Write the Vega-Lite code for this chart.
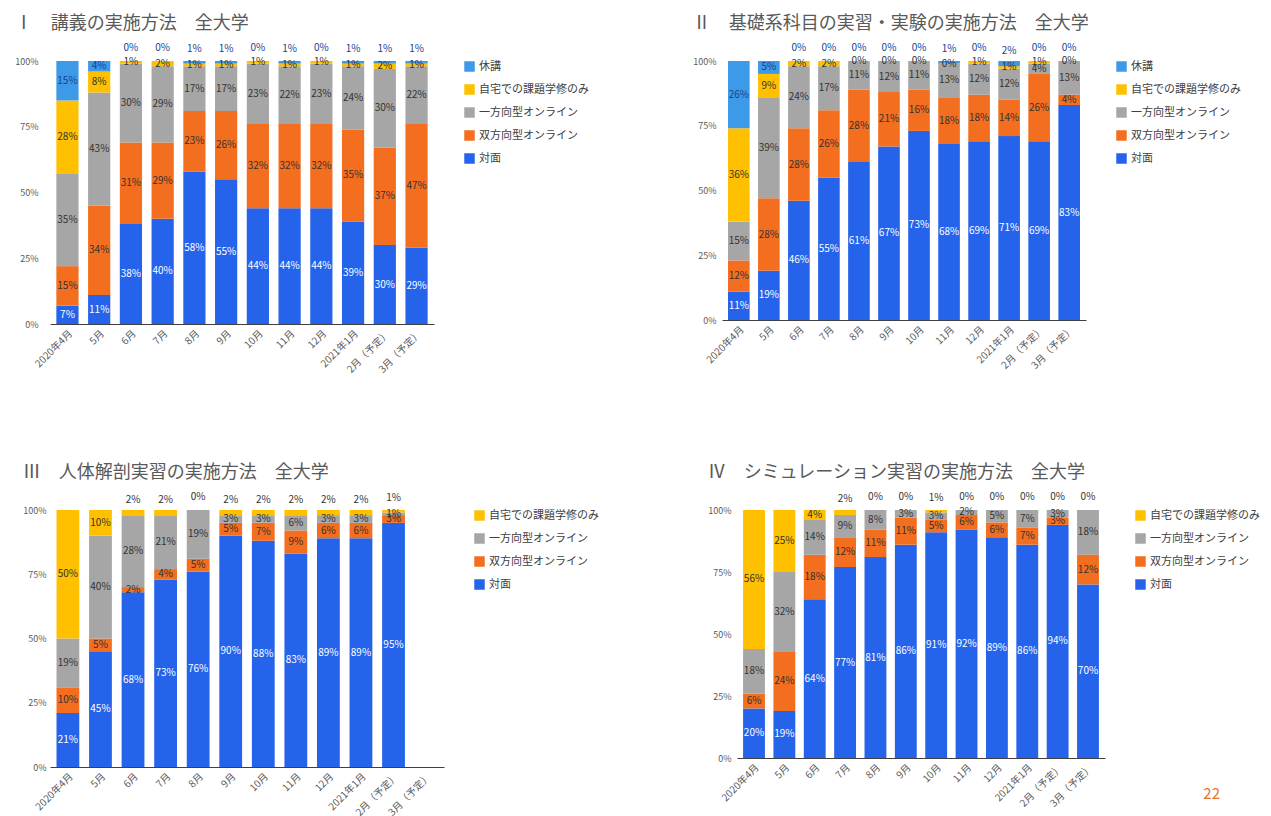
{
  "$schema": "https://vega.github.io/schema/vega-lite/v6.json",
  "background": "white",
  "padding": {"left": 14, "top": 15, "right": 5, "bottom": 5},
  "title": {"text": "22", "orient": "bottom", "anchor": "end", "color": "#E8742F", "fontSize": 15, "offset": -30, "dx": -40},
  "config": {
    "font": "Noto Sans CJK JP",
    "view": {"stroke": null},
    "title": {"fontSize": 18, "fontWeight": "normal", "color": "#595959", "anchor": "start", "frame": "bounds", "offset": 10},
    "axisX": {"labelAngle": -45, "labelFontSize": 10, "labelColor": "#595959", "ticks": false, "domainColor": "#404040", "labelPadding": 4},
    "axisY": {"labelFontSize": 9, "labelColor": "#595959", "ticks": false, "domain": false, "grid": false},
    "legend": {"symbolType": "square", "symbolSize": 110, "symbolStrokeWidth": 0, "labelFontSize": 11, "labelColor": "#404040", "rowPadding": 11, "offset": 30, "orient": "right"},
    "text": {"fontSize": 10}
  },
  "datasets": {
    "stackOrder": [
      {"s": "対面", "k": 0}, {"s": "双方向型オンライン", "k": 1}, {"s": "一方向型オンライン", "k": 2}, {"s": "自宅での課題学修のみ", "k": 3}, {"s": "休講", "k": 4}
    ],
    "lecture": [
      {"m": "2020年4月", "s": "対面", "v": 0.07}, {"m": "2020年4月", "s": "双方向型オンライン", "v": 0.15}, {"m": "2020年4月", "s": "一方向型オンライン", "v": 0.35}, {"m": "2020年4月", "s": "自宅での課題学修のみ", "v": 0.28}, {"m": "2020年4月", "s": "休講", "v": 0.15},
      {"m": "5月", "s": "対面", "v": 0.11}, {"m": "5月", "s": "双方向型オンライン", "v": 0.34}, {"m": "5月", "s": "一方向型オンライン", "v": 0.43}, {"m": "5月", "s": "自宅での課題学修のみ", "v": 0.08}, {"m": "5月", "s": "休講", "v": 0.04},
      {"m": "6月", "s": "対面", "v": 0.38}, {"m": "6月", "s": "双方向型オンライン", "v": 0.31}, {"m": "6月", "s": "一方向型オンライン", "v": 0.30}, {"m": "6月", "s": "自宅での課題学修のみ", "v": 0.01}, {"m": "6月", "s": "休講", "v": 0.0},
      {"m": "7月", "s": "対面", "v": 0.40}, {"m": "7月", "s": "双方向型オンライン", "v": 0.29}, {"m": "7月", "s": "一方向型オンライン", "v": 0.29}, {"m": "7月", "s": "自宅での課題学修のみ", "v": 0.02}, {"m": "7月", "s": "休講", "v": 0.0},
      {"m": "8月", "s": "対面", "v": 0.58}, {"m": "8月", "s": "双方向型オンライン", "v": 0.23}, {"m": "8月", "s": "一方向型オンライン", "v": 0.17}, {"m": "8月", "s": "自宅での課題学修のみ", "v": 0.01}, {"m": "8月", "s": "休講", "v": 0.01},
      {"m": "9月", "s": "対面", "v": 0.55}, {"m": "9月", "s": "双方向型オンライン", "v": 0.26}, {"m": "9月", "s": "一方向型オンライン", "v": 0.17}, {"m": "9月", "s": "自宅での課題学修のみ", "v": 0.01}, {"m": "9月", "s": "休講", "v": 0.01},
      {"m": "10月", "s": "対面", "v": 0.44}, {"m": "10月", "s": "双方向型オンライン", "v": 0.32}, {"m": "10月", "s": "一方向型オンライン", "v": 0.23}, {"m": "10月", "s": "自宅での課題学修のみ", "v": 0.01}, {"m": "10月", "s": "休講", "v": 0.0},
      {"m": "11月", "s": "対面", "v": 0.44}, {"m": "11月", "s": "双方向型オンライン", "v": 0.32}, {"m": "11月", "s": "一方向型オンライン", "v": 0.22}, {"m": "11月", "s": "自宅での課題学修のみ", "v": 0.01}, {"m": "11月", "s": "休講", "v": 0.01},
      {"m": "12月", "s": "対面", "v": 0.44}, {"m": "12月", "s": "双方向型オンライン", "v": 0.32}, {"m": "12月", "s": "一方向型オンライン", "v": 0.23}, {"m": "12月", "s": "自宅での課題学修のみ", "v": 0.01}, {"m": "12月", "s": "休講", "v": 0.0},
      {"m": "2021年1月", "s": "対面", "v": 0.39}, {"m": "2021年1月", "s": "双方向型オンライン", "v": 0.35}, {"m": "2021年1月", "s": "一方向型オンライン", "v": 0.24}, {"m": "2021年1月", "s": "自宅での課題学修のみ", "v": 0.01}, {"m": "2021年1月", "s": "休講", "v": 0.01},
      {"m": "2月（予定）", "s": "対面", "v": 0.30}, {"m": "2月（予定）", "s": "双方向型オンライン", "v": 0.37}, {"m": "2月（予定）", "s": "一方向型オンライン", "v": 0.30}, {"m": "2月（予定）", "s": "自宅での課題学修のみ", "v": 0.02}, {"m": "2月（予定）", "s": "休講", "v": 0.01},
      {"m": "3月（予定）", "s": "対面", "v": 0.29}, {"m": "3月（予定）", "s": "双方向型オンライン", "v": 0.47}, {"m": "3月（予定）", "s": "一方向型オンライン", "v": 0.22}, {"m": "3月（予定）", "s": "自宅での課題学修のみ", "v": 0.01}, {"m": "3月（予定）", "s": "休講", "v": 0.01}
    ],
    "basic": [
      {"m": "2020年4月", "s": "対面", "v": 0.11}, {"m": "2020年4月", "s": "双方向型オンライン", "v": 0.12}, {"m": "2020年4月", "s": "一方向型オンライン", "v": 0.15}, {"m": "2020年4月", "s": "自宅での課題学修のみ", "v": 0.36}, {"m": "2020年4月", "s": "休講", "v": 0.26},
      {"m": "5月", "s": "対面", "v": 0.19}, {"m": "5月", "s": "双方向型オンライン", "v": 0.28}, {"m": "5月", "s": "一方向型オンライン", "v": 0.39}, {"m": "5月", "s": "自宅での課題学修のみ", "v": 0.09}, {"m": "5月", "s": "休講", "v": 0.05},
      {"m": "6月", "s": "対面", "v": 0.46}, {"m": "6月", "s": "双方向型オンライン", "v": 0.28}, {"m": "6月", "s": "一方向型オンライン", "v": 0.24}, {"m": "6月", "s": "自宅での課題学修のみ", "v": 0.02}, {"m": "6月", "s": "休講", "v": 0.0},
      {"m": "7月", "s": "対面", "v": 0.55}, {"m": "7月", "s": "双方向型オンライン", "v": 0.26}, {"m": "7月", "s": "一方向型オンライン", "v": 0.17}, {"m": "7月", "s": "自宅での課題学修のみ", "v": 0.02}, {"m": "7月", "s": "休講", "v": 0.0},
      {"m": "8月", "s": "対面", "v": 0.61}, {"m": "8月", "s": "双方向型オンライン", "v": 0.28}, {"m": "8月", "s": "一方向型オンライン", "v": 0.11}, {"m": "8月", "s": "自宅での課題学修のみ", "v": 0.0}, {"m": "8月", "s": "休講", "v": 0.0},
      {"m": "9月", "s": "対面", "v": 0.67}, {"m": "9月", "s": "双方向型オンライン", "v": 0.21}, {"m": "9月", "s": "一方向型オンライン", "v": 0.12}, {"m": "9月", "s": "自宅での課題学修のみ", "v": 0.0}, {"m": "9月", "s": "休講", "v": 0.0},
      {"m": "10月", "s": "対面", "v": 0.73}, {"m": "10月", "s": "双方向型オンライン", "v": 0.16}, {"m": "10月", "s": "一方向型オンライン", "v": 0.11}, {"m": "10月", "s": "自宅での課題学修のみ", "v": 0.0}, {"m": "10月", "s": "休講", "v": 0.0},
      {"m": "11月", "s": "対面", "v": 0.68}, {"m": "11月", "s": "双方向型オンライン", "v": 0.18}, {"m": "11月", "s": "一方向型オンライン", "v": 0.13}, {"m": "11月", "s": "自宅での課題学修のみ", "v": 0.0}, {"m": "11月", "s": "休講", "v": 0.01},
      {"m": "12月", "s": "対面", "v": 0.69}, {"m": "12月", "s": "双方向型オンライン", "v": 0.18}, {"m": "12月", "s": "一方向型オンライン", "v": 0.12}, {"m": "12月", "s": "自宅での課題学修のみ", "v": 0.01}, {"m": "12月", "s": "休講", "v": 0.0},
      {"m": "2021年1月", "s": "対面", "v": 0.71}, {"m": "2021年1月", "s": "双方向型オンライン", "v": 0.14}, {"m": "2021年1月", "s": "一方向型オンライン", "v": 0.12}, {"m": "2021年1月", "s": "自宅での課題学修のみ", "v": 0.01}, {"m": "2021年1月", "s": "休講", "v": 0.02},
      {"m": "2月（予定）", "s": "対面", "v": 0.69}, {"m": "2月（予定）", "s": "双方向型オンライン", "v": 0.26}, {"m": "2月（予定）", "s": "一方向型オンライン", "v": 0.04}, {"m": "2月（予定）", "s": "自宅での課題学修のみ", "v": 0.01}, {"m": "2月（予定）", "s": "休講", "v": 0.0},
      {"m": "3月（予定）", "s": "対面", "v": 0.83}, {"m": "3月（予定）", "s": "双方向型オンライン", "v": 0.04}, {"m": "3月（予定）", "s": "一方向型オンライン", "v": 0.13}, {"m": "3月（予定）", "s": "自宅での課題学修のみ", "v": 0.0}, {"m": "3月（予定）", "s": "休講", "v": 0.0}
    ],
    "anatomy": [
      {"m": "2020年4月", "s": "対面", "v": 0.21}, {"m": "2020年4月", "s": "双方向型オンライン", "v": 0.10}, {"m": "2020年4月", "s": "一方向型オンライン", "v": 0.19}, {"m": "2020年4月", "s": "自宅での課題学修のみ", "v": 0.50},
      {"m": "5月", "s": "対面", "v": 0.45}, {"m": "5月", "s": "双方向型オンライン", "v": 0.05}, {"m": "5月", "s": "一方向型オンライン", "v": 0.40}, {"m": "5月", "s": "自宅での課題学修のみ", "v": 0.10},
      {"m": "6月", "s": "対面", "v": 0.68}, {"m": "6月", "s": "双方向型オンライン", "v": 0.02}, {"m": "6月", "s": "一方向型オンライン", "v": 0.28}, {"m": "6月", "s": "自宅での課題学修のみ", "v": 0.02},
      {"m": "7月", "s": "対面", "v": 0.73}, {"m": "7月", "s": "双方向型オンライン", "v": 0.04}, {"m": "7月", "s": "一方向型オンライン", "v": 0.21}, {"m": "7月", "s": "自宅での課題学修のみ", "v": 0.02},
      {"m": "8月", "s": "対面", "v": 0.76}, {"m": "8月", "s": "双方向型オンライン", "v": 0.05}, {"m": "8月", "s": "一方向型オンライン", "v": 0.19}, {"m": "8月", "s": "自宅での課題学修のみ", "v": 0.0},
      {"m": "9月", "s": "対面", "v": 0.90}, {"m": "9月", "s": "双方向型オンライン", "v": 0.05}, {"m": "9月", "s": "一方向型オンライン", "v": 0.03}, {"m": "9月", "s": "自宅での課題学修のみ", "v": 0.02},
      {"m": "10月", "s": "対面", "v": 0.88}, {"m": "10月", "s": "双方向型オンライン", "v": 0.07}, {"m": "10月", "s": "一方向型オンライン", "v": 0.03}, {"m": "10月", "s": "自宅での課題学修のみ", "v": 0.02},
      {"m": "11月", "s": "対面", "v": 0.83}, {"m": "11月", "s": "双方向型オンライン", "v": 0.09}, {"m": "11月", "s": "一方向型オンライン", "v": 0.06}, {"m": "11月", "s": "自宅での課題学修のみ", "v": 0.02},
      {"m": "12月", "s": "対面", "v": 0.89}, {"m": "12月", "s": "双方向型オンライン", "v": 0.06}, {"m": "12月", "s": "一方向型オンライン", "v": 0.03}, {"m": "12月", "s": "自宅での課題学修のみ", "v": 0.02},
      {"m": "2021年1月", "s": "対面", "v": 0.89}, {"m": "2021年1月", "s": "双方向型オンライン", "v": 0.06}, {"m": "2021年1月", "s": "一方向型オンライン", "v": 0.03}, {"m": "2021年1月", "s": "自宅での課題学修のみ", "v": 0.02},
      {"m": "2月（予定）", "s": "対面", "v": 0.95}, {"m": "2月（予定）", "s": "双方向型オンライン", "v": 0.03}, {"m": "2月（予定）", "s": "一方向型オンライン", "v": 0.01}, {"m": "2月（予定）", "s": "自宅での課題学修のみ", "v": 0.01}
    ],
    "simulation": [
      {"m": "2020年4月", "s": "対面", "v": 0.20}, {"m": "2020年4月", "s": "双方向型オンライン", "v": 0.06}, {"m": "2020年4月", "s": "一方向型オンライン", "v": 0.18}, {"m": "2020年4月", "s": "自宅での課題学修のみ", "v": 0.56},
      {"m": "5月", "s": "対面", "v": 0.19}, {"m": "5月", "s": "双方向型オンライン", "v": 0.24}, {"m": "5月", "s": "一方向型オンライン", "v": 0.32}, {"m": "5月", "s": "自宅での課題学修のみ", "v": 0.25},
      {"m": "6月", "s": "対面", "v": 0.64}, {"m": "6月", "s": "双方向型オンライン", "v": 0.18}, {"m": "6月", "s": "一方向型オンライン", "v": 0.14}, {"m": "6月", "s": "自宅での課題学修のみ", "v": 0.04},
      {"m": "7月", "s": "対面", "v": 0.77}, {"m": "7月", "s": "双方向型オンライン", "v": 0.12}, {"m": "7月", "s": "一方向型オンライン", "v": 0.09}, {"m": "7月", "s": "自宅での課題学修のみ", "v": 0.02},
      {"m": "8月", "s": "対面", "v": 0.81}, {"m": "8月", "s": "双方向型オンライン", "v": 0.11}, {"m": "8月", "s": "一方向型オンライン", "v": 0.08}, {"m": "8月", "s": "自宅での課題学修のみ", "v": 0.0},
      {"m": "9月", "s": "対面", "v": 0.86}, {"m": "9月", "s": "双方向型オンライン", "v": 0.11}, {"m": "9月", "s": "一方向型オンライン", "v": 0.03}, {"m": "9月", "s": "自宅での課題学修のみ", "v": 0.0},
      {"m": "10月", "s": "対面", "v": 0.91}, {"m": "10月", "s": "双方向型オンライン", "v": 0.05}, {"m": "10月", "s": "一方向型オンライン", "v": 0.03}, {"m": "10月", "s": "自宅での課題学修のみ", "v": 0.01},
      {"m": "11月", "s": "対面", "v": 0.92}, {"m": "11月", "s": "双方向型オンライン", "v": 0.06}, {"m": "11月", "s": "一方向型オンライン", "v": 0.02}, {"m": "11月", "s": "自宅での課題学修のみ", "v": 0.0},
      {"m": "12月", "s": "対面", "v": 0.89}, {"m": "12月", "s": "双方向型オンライン", "v": 0.06}, {"m": "12月", "s": "一方向型オンライン", "v": 0.05}, {"m": "12月", "s": "自宅での課題学修のみ", "v": 0.0},
      {"m": "2021年1月", "s": "対面", "v": 0.86}, {"m": "2021年1月", "s": "双方向型オンライン", "v": 0.07}, {"m": "2021年1月", "s": "一方向型オンライン", "v": 0.07}, {"m": "2021年1月", "s": "自宅での課題学修のみ", "v": 0.0},
      {"m": "2月（予定）", "s": "対面", "v": 0.94}, {"m": "2月（予定）", "s": "双方向型オンライン", "v": 0.03}, {"m": "2月（予定）", "s": "一方向型オンライン", "v": 0.03}, {"m": "2月（予定）", "s": "自宅での課題学修のみ", "v": 0.0},
      {"m": "3月（予定）", "s": "対面", "v": 0.70}, {"m": "3月（予定）", "s": "双方向型オンライン", "v": 0.12}, {"m": "3月（予定）", "s": "一方向型オンライン", "v": 0.18}, {"m": "3月（予定）", "s": "自宅での課題学修のみ", "v": 0.0}
    ]
  },
  "vconcat": [
    {
      "hconcat": [
        {
          "title": {"text": "Ⅰ　講義の実施方法　全大学"},
          "width": 384, "height": 263,
          "data": {"name": "lecture"},
          "transform": [{"lookup": "s", "from": {"data": {"name": "stackOrder"}, "key": "s", "fields": ["k"]}}],
          "encoding": {
            "x": {"field": "m", "type": "nominal", "title": null, "sort": ["2020年4月", "5月", "6月", "7月", "8月", "9月", "10月", "11月", "12月", "2021年1月", "2月（予定）", "3月（予定）"], "scale": {"domain": ["2020年4月", "5月", "6月", "7月", "8月", "9月", "10月", "11月", "12月", "2021年1月", "2月（予定）", "3月（予定）"], "paddingInner": 0.3, "paddingOuter": 0.2}},
            "y": {"field": "v", "type": "quantitative", "stack": "zero", "title": null, "scale": {"domain": [0, 1]}, "axis": {"format": ".0%", "values": [0, 0.25, 0.5, 0.75, 1], "labelPadding": 12}},
            "order": {"field": "k", "type": "quantitative"}
          },
          "layer": [
            {
              "mark": {"type": "bar"},
              "encoding": {
                "color": {"field": "s", "type": "nominal", "sort": ["休講", "自宅での課題学修のみ", "一方向型オンライン", "双方向型オンライン", "対面"], "scale": {"domain": ["休講", "自宅での課題学修のみ", "一方向型オンライン", "双方向型オンライン", "対面"], "range": ["#3D9AE8", "#FFC000", "#A6A6A6", "#F36E1F", "#2563EB"]}, "legend": {"title": null}}
              }
            },
            {
              "mark": {"type": "text"},
              "encoding": {
                "y": {"field": "v", "type": "quantitative", "stack": "zero", "bandPosition": 0.5},
                "color": {"field": "s", "type": "nominal", "sort": ["休講", "自宅での課題学修のみ", "一方向型オンライン", "双方向型オンライン", "対面"], "scale": {"domain": ["休講", "自宅での課題学修のみ", "一方向型オンライン", "双方向型オンライン", "対面"], "range": ["#1A3F8F", "#333333", "#333333", "#333333", "#FFFFFF"]}, "legend": null},
                "text": {"condition": {"test": "datum.v >= 0.03 || datum.s !== '休講'", "field": "v", "type": "quantitative", "format": ".0%"}, "value": ""}
              }
            },
            {
              "mark": {"type": "text", "dy": -13},
              "encoding": {
                "y": {"field": "v", "type": "quantitative", "stack": "zero", "bandPosition": 0.5},
                "color": {"field": "s", "type": "nominal", "sort": ["休講", "自宅での課題学修のみ", "一方向型オンライン", "双方向型オンライン", "対面"], "scale": {"domain": ["休講", "自宅での課題学修のみ", "一方向型オンライン", "双方向型オンライン", "対面"], "range": ["#1A3F8F", "#333333", "#333333", "#333333", "#FFFFFF"]}, "legend": null},
                "text": {"condition": {"test": "datum.v < 0.03 && datum.s === '休講'", "field": "v", "type": "quantitative", "format": ".0%"}, "value": ""}
              }
            }
          ],
          "resolve": {"scale": {"color": "independent"}}
        },
        {
          "title": {"text": "Ⅱ　基礎系科目の実習・実験の実施方法　全大学"},
          "width": 364, "height": 259,
          "data": {"name": "basic"},
          "transform": [{"lookup": "s", "from": {"data": {"name": "stackOrder"}, "key": "s", "fields": ["k"]}}],
          "encoding": {
            "x": {"field": "m", "type": "nominal", "title": null, "sort": ["2020年4月", "5月", "6月", "7月", "8月", "9月", "10月", "11月", "12月", "2021年1月", "2月（予定）", "3月（予定）"], "scale": {"domain": ["2020年4月", "5月", "6月", "7月", "8月", "9月", "10月", "11月", "12月", "2021年1月", "2月（予定）", "3月（予定）"], "paddingInner": 0.28, "paddingOuter": 0.2}},
            "y": {"field": "v", "type": "quantitative", "stack": "zero", "title": null, "scale": {"domain": [0, 1]}, "axis": {"format": ".0%", "values": [0, 0.25, 0.5, 0.75, 1], "labelPadding": 6}},
            "order": {"field": "k", "type": "quantitative"}
          },
          "layer": [
            {
              "mark": {"type": "bar"},
              "encoding": {
                "color": {"field": "s", "type": "nominal", "sort": ["休講", "自宅での課題学修のみ", "一方向型オンライン", "双方向型オンライン", "対面"], "scale": {"domain": ["休講", "自宅での課題学修のみ", "一方向型オンライン", "双方向型オンライン", "対面"], "range": ["#3D9AE8", "#FFC000", "#A6A6A6", "#F36E1F", "#2563EB"]}, "legend": {"title": null}}
              }
            },
            {
              "mark": {"type": "text"},
              "encoding": {
                "y": {"field": "v", "type": "quantitative", "stack": "zero", "bandPosition": 0.5},
                "color": {"field": "s", "type": "nominal", "sort": ["休講", "自宅での課題学修のみ", "一方向型オンライン", "双方向型オンライン", "対面"], "scale": {"domain": ["休講", "自宅での課題学修のみ", "一方向型オンライン", "双方向型オンライン", "対面"], "range": ["#1A3F8F", "#333333", "#333333", "#333333", "#FFFFFF"]}, "legend": null},
                "text": {"condition": {"test": "datum.v >= 0.03 || datum.s !== '休講'", "field": "v", "type": "quantitative", "format": ".0%"}, "value": ""}
              }
            },
            {
              "mark": {"type": "text", "dy": -13},
              "encoding": {
                "y": {"field": "v", "type": "quantitative", "stack": "zero", "bandPosition": 0.5},
                "color": {"field": "s", "type": "nominal", "sort": ["休講", "自宅での課題学修のみ", "一方向型オンライン", "双方向型オンライン", "対面"], "scale": {"domain": ["休講", "自宅での課題学修のみ", "一方向型オンライン", "双方向型オンライン", "対面"], "range": ["#1A3F8F", "#333333", "#333333", "#333333", "#FFFFFF"]}, "legend": null},
                "text": {"condition": {"test": "datum.v < 0.03 && datum.s === '休講'", "field": "v", "type": "quantitative", "format": ".0%"}, "value": ""}
              }
            }
          ],
          "resolve": {"scale": {"color": "independent"}}
        }
      ],
      "spacing": 103
    },
    {
      "hconcat": [
        {
          "title": {"text": "Ⅲ　人体解剖実習の実施方法　全大学"},
          "width": 394, "height": 257,
          "data": {"name": "anatomy"},
          "transform": [{"lookup": "s", "from": {"data": {"name": "stackOrder"}, "key": "s", "fields": ["k"]}}],
          "encoding": {
            "x": {"field": "m", "type": "nominal", "title": null, "sort": ["2020年4月", "5月", "6月", "7月", "8月", "9月", "10月", "11月", "12月", "2021年1月", "2月（予定）", "3月（予定）"], "scale": {"domain": ["2020年4月", "5月", "6月", "7月", "8月", "9月", "10月", "11月", "12月", "2021年1月", "2月（予定）", "3月（予定）"], "paddingInner": 0.3, "paddingOuter": 0.2}},
            "y": {"field": "v", "type": "quantitative", "stack": "zero", "title": null, "scale": {"domain": [0, 1]}, "axis": {"format": ".0%", "values": [0, 0.25, 0.5, 0.75, 1], "labelPadding": 4}},
            "order": {"field": "k", "type": "quantitative"}
          },
          "layer": [
            {
              "mark": {"type": "bar"},
              "encoding": {
                "color": {"field": "s", "type": "nominal", "sort": ["自宅での課題学修のみ", "一方向型オンライン", "双方向型オンライン", "対面"], "scale": {"domain": ["自宅での課題学修のみ", "一方向型オンライン", "双方向型オンライン", "対面"], "range": ["#FFC000", "#A6A6A6", "#F36E1F", "#2563EB"]}, "legend": {"title": null}}
              }
            },
            {
              "mark": {"type": "text"},
              "encoding": {
                "y": {"field": "v", "type": "quantitative", "stack": "zero", "bandPosition": 0.5},
                "color": {"field": "s", "type": "nominal", "sort": ["自宅での課題学修のみ", "一方向型オンライン", "双方向型オンライン", "対面"], "scale": {"domain": ["自宅での課題学修のみ", "一方向型オンライン", "双方向型オンライン", "対面"], "range": ["#333333", "#333333", "#333333", "#FFFFFF"]}, "legend": null},
                "text": {"condition": {"test": "datum.v >= 0.03 || datum.s !== '自宅での課題学修のみ'", "field": "v", "type": "quantitative", "format": ".0%"}, "value": ""}
              }
            },
            {
              "mark": {"type": "text", "dy": -13},
              "encoding": {
                "y": {"field": "v", "type": "quantitative", "stack": "zero", "bandPosition": 0.5},
                "color": {"field": "s", "type": "nominal", "sort": ["自宅での課題学修のみ", "一方向型オンライン", "双方向型オンライン", "対面"], "scale": {"domain": ["自宅での課題学修のみ", "一方向型オンライン", "双方向型オンライン", "対面"], "range": ["#333333", "#333333", "#333333", "#FFFFFF"]}, "legend": null},
                "text": {"condition": {"test": "datum.v < 0.03 && datum.s === '自宅での課題学修のみ'", "field": "v", "type": "quantitative", "format": ".0%"}, "value": ""}
              }
            }
          ],
          "resolve": {"scale": {"color": "independent"}}
        },
        {
          "title": {"text": "Ⅳ　シミュレーション実習の実施方法　全大学"},
          "width": 368, "height": 248,
          "data": {"name": "simulation"},
          "transform": [{"lookup": "s", "from": {"data": {"name": "stackOrder"}, "key": "s", "fields": ["k"]}}],
          "encoding": {
            "x": {"field": "m", "type": "nominal", "title": null, "sort": ["2020年4月", "5月", "6月", "7月", "8月", "9月", "10月", "11月", "12月", "2021年1月", "2月（予定）", "3月（予定）"], "scale": {"domain": ["2020年4月", "5月", "6月", "7月", "8月", "9月", "10月", "11月", "12月", "2021年1月", "2月（予定）", "3月（予定）"], "paddingInner": 0.28, "paddingOuter": 0.2}},
            "y": {"field": "v", "type": "quantitative", "stack": "zero", "title": null, "scale": {"domain": [0, 1]}, "axis": {"format": ".0%", "values": [0, 0.25, 0.5, 0.75, 1], "labelPadding": 6}},
            "order": {"field": "k", "type": "quantitative"}
          },
          "layer": [
            {
              "mark": {"type": "bar"},
              "encoding": {
                "color": {"field": "s", "type": "nominal", "sort": ["自宅での課題学修のみ", "一方向型オンライン", "双方向型オンライン", "対面"], "scale": {"domain": ["自宅での課題学修のみ", "一方向型オンライン", "双方向型オンライン", "対面"], "range": ["#FFC000", "#A6A6A6", "#F36E1F", "#2563EB"]}, "legend": {"title": null}}
              }
            },
            {
              "mark": {"type": "text"},
              "encoding": {
                "y": {"field": "v", "type": "quantitative", "stack": "zero", "bandPosition": 0.5},
                "color": {"field": "s", "type": "nominal", "sort": ["自宅での課題学修のみ", "一方向型オンライン", "双方向型オンライン", "対面"], "scale": {"domain": ["自宅での課題学修のみ", "一方向型オンライン", "双方向型オンライン", "対面"], "range": ["#333333", "#333333", "#333333", "#FFFFFF"]}, "legend": null},
                "text": {"condition": {"test": "datum.v >= 0.03 || datum.s !== '自宅での課題学修のみ'", "field": "v", "type": "quantitative", "format": ".0%"}, "value": ""}
              }
            },
            {
              "mark": {"type": "text", "dy": -13},
              "encoding": {
                "y": {"field": "v", "type": "quantitative", "stack": "zero", "bandPosition": 0.5},
                "color": {"field": "s", "type": "nominal", "sort": ["自宅での課題学修のみ", "一方向型オンライン", "双方向型オンライン", "対面"], "scale": {"domain": ["自宅での課題学修のみ", "一方向型オンライン", "双方向型オンライン", "対面"], "range": ["#333333", "#333333", "#333333", "#FFFFFF"]}, "legend": null},
                "text": {"condition": {"test": "datum.v < 0.03 && datum.s === '自宅での課題学修のみ'", "field": "v", "type": "quantitative", "format": ".0%"}, "value": ""}
              }
            }
          ],
          "resolve": {"scale": {"color": "independent"}}
        }
      ],
      "spacing": 108
    }
  ],
  "spacing": 89
}
